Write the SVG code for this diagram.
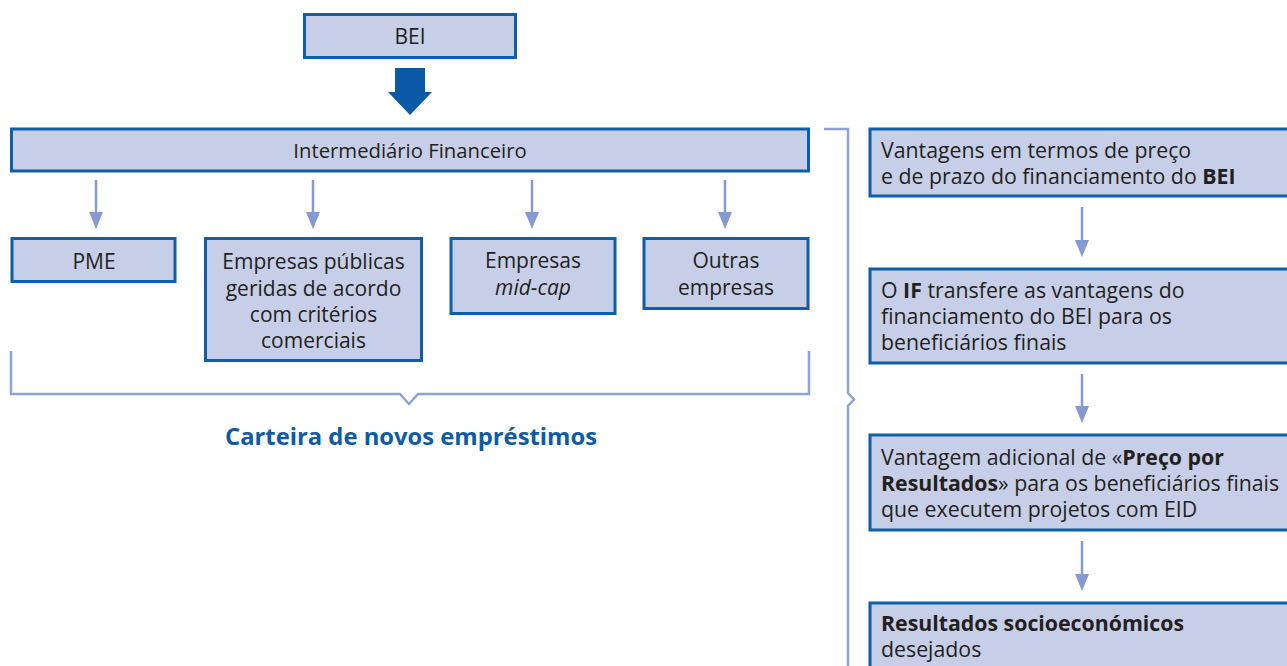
<svg xmlns="http://www.w3.org/2000/svg" width="1287" height="666" viewBox="0 0 1287 666">
<style>
.box{fill:#c7cfe8;stroke:#0f5fa8;stroke-width:3}
.t{font-family:"Open Sans","Liberation Sans",sans-serif;font-size:21px;fill:#231f20}
.r{font-size:21.3px}
.c{text-anchor:middle}
.b{font-weight:bold}
.conn{stroke:#8599d3;stroke-width:2.5;fill:none}
.br{stroke:#8fa2d6;stroke-width:2.5;fill:none}
</style>
<defs>
<marker id="ah" viewBox="0 -7 17 14" markerWidth="17" markerHeight="14" refX="13" refY="0" markerUnits="userSpaceOnUse" orient="auto">
<path d="M0,-7 L17,0 L0,7 z" fill="#8599d3"/>
</marker>
</defs>
<rect width="1287" height="666" fill="#ffffff"/>
<g id="connectors">
<polygon points="395,68 425,68 425,92 432,92 410,115 388,92 395,92" fill="#0a5aa8"/>
<line class="conn" x1="96" y1="180" x2="96" y2="225" marker-end="url(#ah)"/>
<line class="conn" x1="313" y1="180" x2="313" y2="225" marker-end="url(#ah)"/>
<line class="conn" x1="532" y1="180" x2="532" y2="225" marker-end="url(#ah)"/>
<line class="conn" x1="725" y1="180" x2="725" y2="225" marker-end="url(#ah)"/>
<line class="conn" x1="1082" y1="207" x2="1082" y2="253" marker-end="url(#ah)"/>
<line class="conn" x1="1082" y1="374" x2="1082" y2="419" marker-end="url(#ah)"/>
<line class="conn" x1="1082" y1="541" x2="1082" y2="587" marker-end="url(#ah)"/>
<path class="br" d="M11,351 V394 H400 L409,404 L418,394 H809 V351"/>
<path class="br" d="M824,129 H848 V393 L854,399.5 L848,406 V666"/>
</g>
<g id="bei"><rect class="box" x="304.5" y="14.5" width="211" height="43"/><text class="t c" x="410" y="44" font-size="20.5">BEI</text></g>
<g id="if"><rect class="box" x="11.5" y="129" width="797" height="42"/><text class="t c" x="410" y="158" style="font-size:20.3px">Intermediário Financeiro</text></g>
<g id="pme"><rect class="box" x="12" y="238.5" width="163" height="43"/><text class="t c" x="94" y="269">PME</text></g>
<g id="publicas"><rect class="box" x="205.5" y="238.5" width="216" height="122"/>
<text class="t c" x="313.5" y="269">Empresas públicas</text>
<text class="t c" x="313.5" y="295.5">geridas de acordo</text>
<text class="t c" x="313.5" y="322">com critérios</text>
<text class="t c" x="313.5" y="348">comerciais</text></g>
<g id="midcap"><rect class="box" x="451" y="238.5" width="164" height="75"/>
<text class="t c" x="533" y="268">Empresas</text>
<text class="t c" x="533" y="295" font-style="italic">mid-cap</text></g>
<g id="outras"><rect class="box" x="644" y="238.5" width="164" height="70"/>
<text class="t c" x="726" y="268">Outras</text>
<text class="t c" x="726" y="295">empresas</text></g>
<g id="carteira"><text x="411" y="445" text-anchor="middle" font-family="'Open Sans','Liberation Sans',sans-serif" font-size="23.8" font-weight="bold" fill="#0d5ba8">Carteira de novos empréstimos</text></g>
<g id="r1"><rect class="box" x="870" y="129" width="430" height="67"/>
<text class="t r" x="881" y="158">Vantagens em termos de preço</text>
<text class="t r" x="881" y="183.5">e de prazo do financiamento do <tspan class="b">BEI</tspan></text></g>
<g id="r2"><rect class="box" x="870" y="269" width="430" height="94"/>
<text class="t r" x="881" y="298">O <tspan class="b">IF</tspan> transfere as vantagens do</text>
<text class="t r" x="881" y="324">financiamento do BEI para os</text>
<text class="t r" x="881" y="350">beneficiários finais</text></g>
<g id="r3"><rect class="box" x="870" y="435" width="430" height="95"/>
<text class="t r" x="881" y="464.5">Vantagem adicional de «<tspan class="b">Preço por</tspan></text>
<text class="t r" x="881" y="491"><tspan class="b">Resultados</tspan>» para os beneficiários finais</text>
<text class="t r" x="881" y="517">que executem projetos com EID</text></g>
<g id="r4"><rect class="box" x="870" y="603" width="430" height="100"/>
<text class="t r b" x="881" y="631">Resultados socioeconómicos</text>
<text class="t r" x="881" y="657">desejados</text></g>
</svg>
